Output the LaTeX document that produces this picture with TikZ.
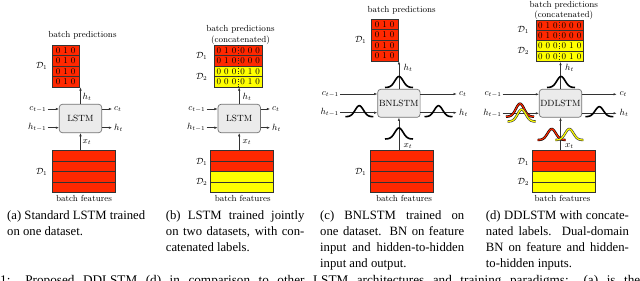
\documentclass[tikz,border=0pt]{standalone}
\usepackage{fontspec}
\newfontfamily\capfont{Liberation Serif}
\usetikzlibrary{arrows.meta}
\definecolor{dred}{RGB}{255,40,0}
\definecolor{dyel}{RGB}{255,255,0}
\newcommand\gaussbump[4]{\draw[#1,shift={(#2,#3)}] plot[domain=-14:14,samples=49,smooth] (\x,{-#4*exp(-(\x)^2/34)});}
\newcommand\capline[2]{\makebox[#1][s]{#2}}
\begin{document}
\begin{tikzpicture}[x=1pt,y=-1pt,
  >={Latex[length=3.2pt,width=2.4pt]},
  font=\fontsize{8.8}{10}\selectfont,
  lstmbox/.style={draw=black!55,fill=black!8,rounded corners=3pt,minimum width=42.4pt,minimum height=28.4pt,inner sep=0pt,line width=0.7pt,font=\fontsize{9}{10}\selectfont},
  conn/.style={->,draw=black!80,line width=0.5pt},
  prow/.style={draw=black!80,fill=dred,minimum width=26.9pt,minimum height=10.5pt,inner sep=0pt,line width=0.6pt},
  prowsix/.style={draw=black!80,minimum width=47.5pt,minimum height=10.5pt,inner sep=0pt,line width=0.6pt},
  frow/.style={draw=black!80,minimum width=62.6pt,minimum height=10.4pt,inner sep=0pt,line width=0.6pt},
  lbl/.style={inner sep=1pt},
  captext/.style={anchor=base west,inner sep=0pt,font=\capfont\fontsize{12.7}{16.3}\selectfont},
  bumpk/.style={black,line width=1.6pt},
  bumpr/.style={draw=black,double=dred,double distance=1.2pt,line width=0.6pt},
  bumpy/.style={draw=black!80,double=dyel,double distance=1.2pt,line width=0.6pt}]
\clip (0,0) rectangle (640,281);
\fill[white] (0,0) rectangle (640,281);

% ---------------- panel (a)
\node (ta) at (82.5,35) {batch predictions};
\node[prow] (pa1) at (65.7,50.3) {0 1 0};
\node[prow] (pa2) at (65.7,60.8) {0 1 0};
\node[prow] (pa3) at (65.7,71.3) {0 1 0};
\node[prow] (pa4) at (65.7,81.8) {0 1 0};
\node (pad1) at (41.7,66) {$\mathcal{D}_1$};
\node[lstmbox] (la) at (80.5,118.5) {LSTM};
\node[anchor=east,lbl] (cain) at (47.5,109) {$c_{t-1}$};
\node[anchor=east,lbl] (hain) at (47.5,127.7) {$h_{t-1}$};
\coordinate (caout) at (112,109);
\coordinate (haout) at (112,127.7);
\node[anchor=west,lbl] (calab) at (113,109) {$c_t$};
\node[anchor=west,lbl] (halab) at (113,127.7) {$h_t$};
\draw[conn] (cain.east) -- (cain.east -| la.west);
\draw[conn] (hain.east) -- (hain.east -| la.west);
\draw[conn] (la.east |- caout) -- (caout);
\draw[conn] (la.east |- haout) -- (haout);
\draw[conn] (la.north) -- (la.north |- pa4.south);
\node[anchor=west,lbl] (hta) at (81.5,96.7) {$h_t$};
\node[frow,fill=dred] (fa1) at (83.7,155.9) {};
\node[frow,fill=dred] (fa2) at (83.7,166.3) {};
\node[frow,fill=dred] (fa3) at (83.7,176.7) {};
\node[frow,fill=dred] (fa4) at (83.7,187.1) {};
\node (fad1) at (41.7,171.5) {$\mathcal{D}_1$};
\draw[conn] (la.south |- fa1.north) -- (la.south);
\node[anchor=west,lbl] (xta) at (81.5,142) {$x_t$};
\node (bfa) at (84,198.5) {batch features};

% ---------------- panel (b)
\node (tb) at (240.5,29.3) {batch predictions};
\node (tb2) at (240.5,40) {(concatenated)};
\node[prowsix,fill=dred] (pb1) at (238.3,50.3) {0 1 0\hspace{4pt}0 0 0};
\node[prowsix,fill=dred] (pb2) at (238.3,60.8) {0 1 0\hspace{4pt}0 0 0};
\node[prowsix,fill=dyel] (pb3) at (238.3,71.3) {0 0 0\hspace{4pt}0 1 0};
\node[prowsix,fill=dyel] (pb4) at (238.3,81.8) {0 0 0\hspace{4pt}0 1 0};
\draw[dotted,black!85,line width=0.6pt] (pb1.north) -- (pb4.south);
\node (pbd1) at (201.7,55.6) {$\mathcal{D}_1$};
\node (pbd2) at (201.7,76.6) {$\mathcal{D}_2$};
\node[lstmbox] (lb) at (239.2,118.5) {LSTM};
\node[anchor=east,lbl] (cbin) at (206.5,109) {$c_{t-1}$};
\node[anchor=east,lbl] (hbin) at (206.5,127.7) {$h_{t-1}$};
\coordinate (cbout) at (270,109);
\coordinate (hbout) at (270,127.7);
\node[anchor=west,lbl] (cblab) at (271,109) {$c_t$};
\node[anchor=west,lbl] (hblab) at (271,127.7) {$h_t$};
\draw[conn] (cbin.east) -- (cbin.east -| lb.west);
\draw[conn] (hbin.east) -- (hbin.east -| lb.west);
\draw[conn] (lb.east |- cbout) -- (cbout);
\draw[conn] (lb.east |- hbout) -- (hbout);
\draw[conn] (lb.north) -- (lb.north |- pb4.south);
\node[anchor=west,lbl] (htb) at (241.5,96.7) {$h_t$};
\node[frow,fill=dred] (fb1) at (242,155.9) {};
\node[frow,fill=dred] (fb2) at (242,166.3) {};
\node[frow,fill=dyel] (fb3) at (242,176.7) {};
\node[frow,fill=dyel] (fb4) at (242,187.1) {};
\node (fbd1) at (201.7,161.5) {$\mathcal{D}_1$};
\node (fbd2) at (201.7,181.8) {$\mathcal{D}_2$};
\draw[conn] (lb.south |- fb1.north) -- (lb.south);
\node[anchor=west,lbl] (xtb) at (241.5,142) {$x_t$};
\node (bfb) at (242.7,198.5) {batch features};

% ---------------- panel (c)
\node (tc) at (401.7,10) {batch predictions};
\node[prow] (pc1) at (384.7,24.5) {0 1 0};
\node[prow] (pc2) at (384.7,34.9) {0 1 0};
\node[prow] (pc3) at (384.7,45.3) {0 1 0};
\node[prow] (pc4) at (384.7,55.7) {0 1 0};
\node (pcd1) at (360.7,40.1) {$\mathcal{D}_1$};
\node[lstmbox,minimum height=28pt] (lc) at (398.9,103.3) {BNLSTM};
\node[anchor=east,lbl] (ccin) at (340,94) {$c_{t-1}$};
\node[anchor=east,lbl] (hcin) at (340,112.7) {$h_{t-1}$};
\coordinate (ccout) at (456.7,94);
\coordinate (hcout) at (456.7,112.7);
\node[anchor=west,lbl] (cclab) at (458,94) {$c_t$};
\node[anchor=west,lbl] (hclab) at (458,112.7) {$h_t$};
\draw[conn] (ccin.east) -- (ccin.east -| lc.west);
\draw[conn] (hcin.east) -- (hcin.east -| lc.west);
\draw[conn] (lc.east |- ccout) -- (ccout);
\draw[conn] (lc.east |- hcout) -- (hcout);
\draw[conn] (lc.north) -- (lc.north |- pc4.south);
\node[anchor=west,lbl] (htc) at (402.5,68.3) {$h_t$};
\node[frow,fill=dred] (fc1) at (401.7,155.9) {};
\node[frow,fill=dred] (fc2) at (401.7,166.3) {};
\node[frow,fill=dred] (fc3) at (401.7,176.7) {};
\node[frow,fill=dred] (fc4) at (401.7,187.1) {};
\node (fcd1) at (360.7,171.5) {$\mathcal{D}_1$};
\draw[conn] (lc.south |- fc1.north) -- (lc.south);
\node[anchor=west,lbl] (xtc) at (402.5,145.7) {$x_t$};
\node (bfc) at (404,198.5) {batch features};
\gaussbump{bumpk}{399}{87.5}{11}
\gaussbump{bumpk}{359.3}{116.7}{11}
\gaussbump{bumpk}{438.5}{116.7}{11}
\gaussbump{bumpk}{399}{139}{11}

% ---------------- panel (d)
\node (td) at (563.8,5) {batch predictions};
\node (td2) at (563.8,15.5) {(concatenated)};
\node[prowsix,fill=dred] (pd1) at (559.7,25.2) {0 1 0\hspace{4pt}0 0 0};
\node[prowsix,fill=dred] (pd2) at (559.7,35.6) {0 1 0\hspace{4pt}0 0 0};
\node[prowsix,fill=dyel] (pd3) at (559.7,46) {0 0 0\hspace{4pt}0 1 0};
\node[prowsix,fill=dyel] (pd4) at (559.7,56.4) {0 0 0\hspace{4pt}0 1 0};
\draw[dotted,black!85,line width=0.6pt] (pd1.north) -- (pd4.south);
\node (pdd1) at (523.3,30.4) {$\mathcal{D}_1$};
\node (pdd2) at (523.3,51.2) {$\mathcal{D}_2$};
\node[lstmbox,minimum height=28pt] (ld) at (560.5,103.3) {DDLSTM};
\node[anchor=east,lbl] (cdin) at (502.7,94.3) {$c_{t-1}$};
\node[anchor=east,lbl] (hdin) at (502.7,113.3) {$h_{t-1}$};
\coordinate (cdout) at (616.7,94.3);
\coordinate (hdout) at (616.7,113.3);
\node[anchor=west,lbl] (cdlab) at (618.5,94.3) {$c_t$};
\node[anchor=west,lbl] (hdlab) at (618.5,113.3) {$h_t$};
\draw[conn] (cdin.east) -- (cdin.east -| ld.west);
\draw[conn] (hdin.east) -- (hdin.east -| ld.west);
\draw[conn] (ld.east |- cdout) -- (cdout);
\draw[conn] (ld.east |- hdout) -- (hdout);
\draw[conn] (ld.north) -- (ld.north |- pd4.south);
\node[anchor=west,lbl] (htd) at (564,68.3) {$h_t$};
\node[frow,fill=dred] (fd1) at (563.8,155.9) {};
\node[frow,fill=dred] (fd2) at (563.8,166.3) {};
\node[frow,fill=dyel] (fd3) at (563.8,176.7) {};
\node[frow,fill=dyel] (fd4) at (563.8,187.1) {};
\node (fdd1) at (523.3,161.5) {$\mathcal{D}_1$};
\node (fdd2) at (523.3,181.8) {$\mathcal{D}_2$};
\draw[conn] (ld.south |- fd1.north) -- (ld.south);
\node[anchor=west,lbl] (xtd) at (564,145.7) {$x_t$};
\node (bfd) at (562.5,198.5) {batch features};
\gaussbump{bumpk}{561}{87.5}{11}
\gaussbump{bumpr}{520}{116.7}{13}
\gaussbump{bumpy}{521.7}{121.5}{12}
\gaussbump{bumpk}{599.3}{116.7}{10}
\gaussbump{bumpr}{551.7}{140}{11}
\gaussbump{bumpy}{569.3}{140}{11}

% ---------------- captions
\node[captext] (capa1) at (7,219) {\capline{138pt}{(a) Standard LSTM trained}};
\node[captext] (capa2) at (7,235.3) {on one dataset.};
\node[captext] (capb1) at (165.7,219) {\capline{138.5pt}{(b) LSTM trained jointly}};
\node[captext] (capb2) at (165.7,235.3) {\capline{138.5pt}{on two datasets, with con-}};
\node[captext] (capb3) at (165.7,251.6) {catenated labels.};
\node[captext] (capc1) at (320,219) {\capline{144pt}{(c) BNLSTM trained on}};
\node[captext] (capc2) at (320,235.3) {\capline{144pt}{one dataset. BN on feature}};
\node[captext] (capc3) at (320,251.6) {\capline{144pt}{input and hidden-to-hidden}};
\node[captext] (capc4) at (320,267.9) {input and output.};
\node[captext] (capd1) at (485.7,219) {\capline{143pt}{(d) DDLSTM with concate-}};
\node[captext] (capd2) at (485.7,235.3) {\capline{143pt}{nated labels. Dual-domain}};
\node[captext] (capd3) at (485.7,251.6) {\capline{143pt}{BN on feature and hidden-}};
\node[captext] (capd4) at (485.7,267.9) {to-hidden inputs.};
\node[captext,font=\capfont\fontsize{13.2}{16}\selectfont] (mcap) at (0,284.5) {\capline{640pt}{1: Proposed DDLSTM (d) in comparison to other LSTM architectures and training paradigms: (a) is the}};
\end{tikzpicture}
\end{document}
